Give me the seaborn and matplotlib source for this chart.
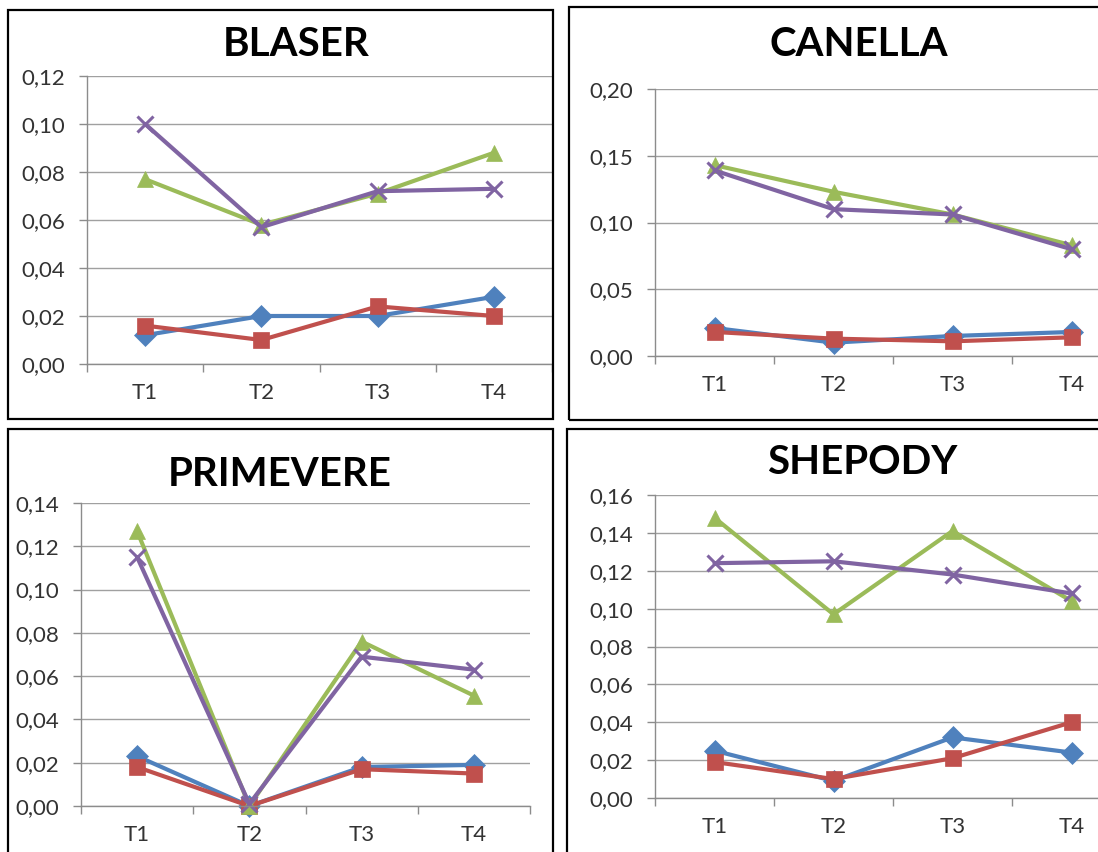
import numpy as np
import pandas as pd
import seaborn as sns
import matplotlib.pyplot as plt
from matplotlib.patches import Rectangle
from matplotlib.ticker import FixedLocator

# time points
times = ["T1", "T2", "T3", "T4"]

# series names / colours (Excel 2007 defaults)
series = ["s1", "s2", "s3", "s4"]
colors = ["#4F81BD", "#C0504D", "#9BBB59", "#8064A2"]
markers = ["D", "s", "^", "x"]

# values
blaser_blue = [0.012, 0.020, 0.020, 0.028]
blaser_red = [0.016, 0.010, 0.024, 0.020]
blaser_green = [0.077, 0.058, 0.071, 0.088]
blaser_purple = [0.100, 0.057, 0.072, 0.073]

canella_blue = [0.021, 0.010, 0.015, 0.018]
canella_red = [0.018, 0.013, 0.011, 0.014]
canella_green = [0.143, 0.123, 0.106, 0.083]
canella_purple = [0.139, 0.110, 0.106, 0.080]

primevere_blue = [0.023, 0.000, 0.018, 0.019]
primevere_red = [0.018, 0.000, 0.017, 0.015]
primevere_green = [0.127, 0.000, 0.076, 0.051]
primevere_purple = [0.115, 0.001, 0.069, 0.063]

shepody_blue = [0.025, 0.009, 0.032, 0.024]
shepody_red = [0.019, 0.010, 0.021, 0.040]
shepody_green = [0.148, 0.097, 0.141, 0.104]
shepody_purple = [0.124, 0.125, 0.118, 0.108]

titles = ["BLASER", "CANELLA", "PRIMEVERE", "SHEPODY"]
y_max = [0.12, 0.20, 0.14, 0.16]
y_step = [0.02, 0.05, 0.02, 0.02]

panel_values = [
    [blaser_blue, blaser_red, blaser_green, blaser_purple],
    [canella_blue, canella_red, canella_green, canella_purple],
    [primevere_blue, primevere_red, primevere_green, primevere_purple],
    [shepody_blue, shepody_red, shepody_green, shepody_purple],
]

sns.set_style("white")
plt.rcParams["font.family"] = ["Lato", "DejaVu Sans"]

W, H = 1098, 852
fig = plt.figure(figsize=(W / 100, H / 100), dpi=100)


def px_rect(l, t, r, b):
    return [l / W, 1 - b / H, (r - l) / W, (b - t) / H]


# plot area / frame / title positions in pixels
axes_px = [(87, 76, 552, 364), (655, 89, 1131, 356),
           (81, 503, 530, 806), (655, 495, 1131, 798)]
boxes_px = [(8, 10, 553, 419), (569, 7, 1110, 420),
            (8, 429, 553, 870), (567, 429, 1110, 870)]
title_px = [(296, 44), (859, 44), (280, 475), (862, 463)]

for i in range(4):
    ax = fig.add_axes(px_rect(*axes_px[i]))
    df = pd.DataFrame({
        "time": times * 4,
        "value": np.concatenate(panel_values[i]),
        "series": np.repeat(series, 4),
    })
    for s, c, m in zip(series, colors, markers):
        sub = df[df["series"] == s]
        ms = {"D": 11, "s": 12, "^": 12, "x": 12}[m]
        mew = 2.2 if m == "x" else 0.5
        sns.lineplot(data=sub, x="time", y="value", color=c, marker=m,
                     markersize=ms, markeredgecolor=c, markeredgewidth=mew,
                     linewidth=3.0, ax=ax, clip_on=False, legend=False)

    yt = np.arange(0, y_max[i] + 1e-9, y_step[i])
    ax.set_ylim(0, y_max[i])
    ax.set_yticks(yt)
    ax.set_yticklabels([f"{v:.2f}".replace(".", ",") for v in yt])
    ax.set_xlim(-0.5, 3.5)
    ax.set_xticks(range(4))
    ax.set_xticklabels(times)
    ax.xaxis.set_minor_locator(FixedLocator([-0.5, 0.5, 1.5, 2.5, 3.5]))
    ax.tick_params(axis="x", which="major", length=0, pad=14,
                   labelsize=16, labelcolor="#333333")
    ax.tick_params(axis="x", which="minor", length=6, width=1,
                   color="#8c8c8c", direction="out", bottom=True)
    ax.tick_params(axis="y", length=6, width=1, color="#8c8c8c",
                   direction="out", left=True, pad=10,
                   labelsize=16, labelcolor="#333333")
    ax.set_xlabel("")
    ax.set_ylabel("")
    ax.grid(axis="y", color="#a0a0a0", linewidth=1.0)
    ax.set_axisbelow(True)
    for side in ["top", "right"]:
        ax.spines[side].set_visible(False)
    for side in ["left", "bottom"]:
        ax.spines[side].set_color("#8c8c8c")
        ax.spines[side].set_linewidth(1.0)

    fig.text(title_px[i][0] / W, 1 - title_px[i][1] / H, titles[i],
             ha="center", va="center", fontsize=29, fontweight="bold",
             color="black")

    l, t, r, b = boxes_px[i]
    fig.add_artist(Rectangle((l / W, 1 - b / H), (r - l) / W, (b - t) / H,
                             transform=fig.transFigure, fill=False,
                             edgecolor="black", linewidth=1.6))

plt.savefig("out.png", dpi=100)
